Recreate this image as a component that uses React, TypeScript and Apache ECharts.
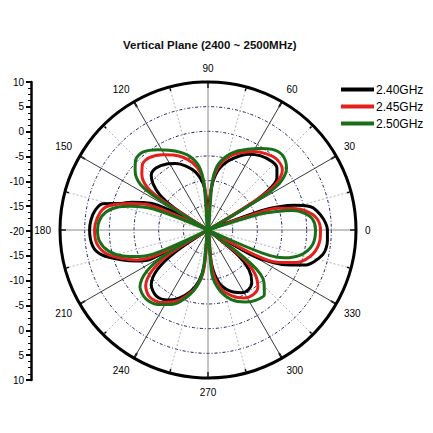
import React, { useEffect, useRef } from 'react';
import * as echarts from 'echarts';

const TITLE = 'Vertical Plane (2400 ~ 2500MHz)';
const SERIES_NAMES = ['2.40GHz', '2.45GHz', '2.50GHz'];
const COLORS = ['#000000', '#e3201b', '#1a6e1a'];

// angles in degrees (values above 360 wrap round), gain in dB
const blackAngles = [22, 29, 31, 33, 37, 42, 47, 55, 62, 67, 74, 80, 84, 87, 89, 91, 93, 96, 102, 109, 116, 122, 130, 136, 140, 144, 147, 149, 153, 155, 160, 163, 166, 170, 175, 180, 188, 193, 199, 204, 207, 210, 212, 214, 218, 224, 232, 240, 247, 254, 260, 264, 267, 273, 276, 282, 290, 298, 304, 310, 316, 320, 323, 328, 330, 332, 335, 340, 348, 355, 360, 365, 370, 373, 376, 378, 380, 382];
const blackDb = [-20, -20, -11, -6, -2.5, -1.2, -1, -1.6, -2.6, -3.7, -5.5, -7.5, -10, -14, -20, -20, -14, -10.5, -8, -6.3, -5, -4.2, -3.6, -4, -5.5, -8, -12, -20, -20, -7.2, -3.5, -1.6, 2, 3.2, 3.8, 4, 3.6, 2.2, -1.4, -4.5, -7, -20, -20, -12, -7, -4, -3, -3.6, -5, -7, -9.5, -13, -20, -20, -13, -9, -6.8, -5.6, -5.4, -6.2, -8.5, -12, -20, -20, -10, -7, -3.5, 0.8, 3.8, 4.3, 4.2, 3.6, 2.4, 1.2, -1.8, -4.5, -8.5, -20];

const redAngles = [21, 30, 32, 34, 39, 46, 53, 60, 66, 72, 78, 83, 86, 88, 92, 94, 97, 103, 109, 115, 121, 129, 135, 140, 145, 147, 149, 155, 157, 161, 164, 168, 174, 180, 187, 193, 198, 203, 206, 208, 210, 212, 216, 222, 229, 237, 245, 252, 259, 264, 267, 273, 276, 282, 290, 298, 305, 311, 317, 321, 324, 330, 332, 335, 340, 347, 355, 360, 366, 371, 374, 377, 379, 381];
const redDb = [-20, -20, -8, -3.5, -0.6, 0, -0.6, -1.6, -2.8, -4, -5.8, -8.5, -12, -20, -20, -12, -8.5, -6, -4.4, -3.2, -2.2, -1.1, -1.2, -2.5, -5, -9, -20, -20, -7, -3.5, -1, 1.5, 2.6, 3, 2.7, 1.2, -1.5, -4.5, -8, -20, -20, -11, -6, -3, -2, -2.5, -4, -6, -8.5, -12, -20, -20, -12, -8, -5.8, -4.4, -4, -4.6, -7, -11, -20, -20, -9, -4.5, -0.8, 1.8, 2.8, 2.8, 2.2, 0.2, -2, -5, -9, -20];

const greenAngles = [19, 29, 31, 33, 38, 45, 52, 58, 64, 70, 76, 82, 85, 88, 92, 95, 98, 104, 110, 116, 122, 130, 136, 141, 146, 148, 150, 157, 159, 163, 166, 170, 175, 180, 186, 192, 197, 201, 204, 206, 208, 210, 214, 220, 228, 236, 244, 251, 258, 263, 267, 272, 275, 281, 289, 297, 304, 311, 317, 322, 325, 334, 337, 340, 345, 352, 360, 366, 370, 373, 375, 377, 379];
const greenDb = [-20, -20, -8, -2.8, 0.2, 1.4, 0.8, -0.5, -1.8, -3, -4.6, -7, -10.6, -20, -20, -10.6, -7, -4.6, -3.2, -2, -0.8, 0.6, 0.4, -1, -3.5, -8, -20, -20, -8, -3.5, -1, 1, 2.1, 2.4, 2.1, 0.6, -2, -5, -9, -20, -20, -10, -5, -2, -1.2, -1.8, -3.2, -5.2, -8, -11.5, -20, -20, -11, -7.5, -5, -3.6, -2.8, -2.6, -4.5, -9, -20, -20, -8, -3.5, -0.5, 1.4, 1.8, 1.3, -0.2, -2.5, -5.5, -9, -20];

const RADIUS_MIN = -20;
const RADIUS_MAX = 10;
const RADIUS_STEP = 5;
const ANGLE_STEP = 30;

const FONT = 'Liberation Sans, Arial, sans-serif';

function toPolar(angles: number[], db: number[]) {
  return angles.map((a, i) => [db[i], a % 360]);
}

export default function App() {
  const ref = useRef<HTMLDivElement>(null);
  useEffect(() => {
    if (!ref.current) return;
    const chart = echarts.init(ref.current, undefined, { renderer: 'svg' });
    const sets = [
      toPolar(blackAngles, blackDb),
      toPolar(redAngles, redDb),
      toPolar(greenAngles, greenDb),
    ];
    chart.setOption({
      animation: false,
      backgroundColor: '#ffffff',
      title: {
        text: TITLE,
        left: 118,
        top: 34,
        textStyle: { fontSize: 11.5, fontWeight: 'bold', fontFamily: FONT, color: '#111' },
      },
      legend: {
        orient: 'vertical',
        left: 336,
        top: 78,
        itemWidth: 33,
        itemHeight: 4,
        itemGap: 4,
        icon: 'rect',
        data: SERIES_NAMES,
        textStyle: { fontSize: 12, lineHeight: 13, fontFamily: FONT, color: '#000', padding: [0, 0, 0, -3] },
      },
      grid: { left: 31, top: 82, width: 1, height: 298 },
      xAxis: { type: 'value', show: false, min: 0, max: 1 },
      yAxis: {
        type: 'value',
        min: -30,
        max: 30,
        interval: 5,
        axisLine: { show: true, lineStyle: { color: '#000', width: 2.5 } },
        axisTick: { show: true, length: 5, lineStyle: { color: '#000', width: 2 } },
        minorTick: { show: true, splitNumber: 4, length: 3, lineStyle: { color: '#000', width: 1 } },
        axisLabel: {
          fontSize: 10,
          color: '#000',
          fontFamily: FONT,
          margin: 7,
          formatter: (v: number) => String(Math.abs(v) + RADIUS_MIN),
        },
        splitLine: { show: false },
      },
      polar: { center: [208, 230], radius: 148 },
      angleAxis: {
        type: 'value',
        min: 0,
        max: 360,
        interval: ANGLE_STEP,
        startAngle: 0,
        clockwise: false,
        axisLine: { lineStyle: { color: '#000', width: 3 } },
        axisTick: { show: true, inside: true, length: 6, lineStyle: { color: '#000', width: 2 } },
        minorTick: { show: true, splitNumber: 2, length: 4, lineStyle: { color: '#000', width: 1.5 } },
        axisLabel: {
          margin: 9,
          fontSize: 10,
          color: '#000',
          fontFamily: FONT,
          formatter: (v: number) => (v === 360 ? '' : String(v)),
        },
        splitLine: { show: true, lineStyle: { color: ['#8a8a8a', '#3a3a3a', '#3a3a3a'], width: 1 } },
        minorSplitLine: { show: true, lineStyle: { color: '#b5b5b5', type: [2, 2], width: 1 } },
      },
      radiusAxis: {
        type: 'value',
        min: RADIUS_MIN,
        max: RADIUS_MAX,
        interval: RADIUS_STEP,
        axisLine: { show: false },
        axisTick: { show: false },
        axisLabel: { show: false },
        splitLine: { show: true, lineStyle: { color: '#1c1c5c', type: [3, 2, 1, 2], width: 1 } },
      },
      series: SERIES_NAMES.map((name, i) => ({
        type: 'line',
        name,
        coordinateSystem: 'polar',
        data: sets[i],
        showSymbol: false,
        symbol: 'none',
        smooth: 0.3,
        lineStyle: { width: 3, color: COLORS[i] },
        itemStyle: { color: COLORS[i] },
        z: 3 + i,
      })),
    });
    return () => chart.dispose();
  }, []);
  return (
    <div
      ref={ref}
      style={{ position: 'fixed', left: 0, top: 0, width: 433, height: 433, background: '#fff' }}
    />
  );
}
